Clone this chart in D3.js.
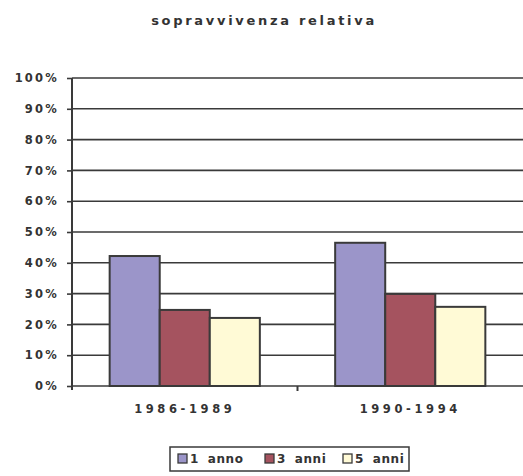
<!DOCTYPE html>
<html>
<head>
<meta charset="utf-8">
<script src="https://cdn.jsdelivr.net/npm/d3@7"></script>
<style>
  body { margin: 0; background: #fff; }
  text { font-family: "DejaVu Sans", sans-serif; font-weight: bold; fill: #333; }
</style>
</head>
<body>
<div id="chart"></div>
<script>
// data
var periods = ["1986-1989", "1990-1994"];
var seriesNames = ["1 anno", "3 anni", "5 anni"];
var anno1 = [42.2, 46.5];
var anni3 = [24.7, 29.9];
var anni5 = [22.1, 25.7];
var yTicks = [0, 10, 20, 30, 40, 50, 60, 70, 80, 90, 100];
var colors = ["#9b95c9", "#a5535f", "#fffad6"];

var margin = {top: 78, right: 0, bottom: 90, left: 72};
var width = 523 - margin.left - margin.right,
    height = 476 - margin.top - margin.bottom;

var svg = d3.select("#chart").append("svg")
    .attr("width", 523)
    .attr("height", 476);

svg.append("text")
    .attr("x", 264)
    .attr("y", 25)
    .attr("text-anchor", "middle")
    .style("font-size", "13px")
    .style("letter-spacing", "2.7px")
    .text("sopravvivenza relativa");

var g = svg.append("g")
    .attr("transform", "translate(" + margin.left + "," + margin.top + ")");

var y = d3.scaleLinear().domain([0, 100]).range([height, 0]);

var x0 = d3.scaleBand().domain(periods).range([0, width]).padding(0);

var x1 = d3.scaleBand().domain(seriesNames)
    .range([x0.bandwidth() * 0.167, x0.bandwidth() * 0.833]).padding(0);

var data = periods.map(function(p, i) {
    return {period: p, values: [anno1[i], anni3[i], anni5[i]]};
});

// gridlines
g.selectAll(".grid")
    .data(yTicks.slice(1))
    .enter()
    .append("line")
    .attr("x1", 0)
    .attr("x2", width)
    .attr("y1", function(d) { return y(d); })
    .attr("y2", function(d) { return y(d); })
    .attr("stroke", "#3a3a3a")
    .attr("stroke-width", 1.6);

// bars
var groups = g.selectAll(".grp")
    .data(data)
    .enter()
    .append("g")
    .attr("transform", function(d) { return "translate(" + x0(d.period) + ",0)"; });

groups.selectAll("rect")
    .data(function(d) { return d.values.map(function(v, i) { return {name: seriesNames[i], value: v, i: i}; }); })
    .enter()
    .append("rect")
    .attr("x", function(d) { return x1(d.name); })
    .attr("width", x1.bandwidth())
    .attr("y", function(d) { return y(d.value); })
    .attr("height", function(d) { return height - y(d.value); })
    .attr("fill", function(d) { return colors[d.i]; })
    .attr("stroke", "#3a3a3a")
    .attr("stroke-width", 2);

// y axis
var yAxis = d3.axisLeft(y)
    .tickValues(yTicks)
    .tickSize(5)
    .tickPadding(8)
    .tickFormat(function(d) { return d + "%"; });

var ya = g.append("g").call(yAxis);
ya.select(".domain").remove();
ya.selectAll(".tick line").attr("stroke", "#3a3a3a").attr("stroke-width", 1.6);
ya.selectAll("text")
    .style("font-size", "11.5px")
    .style("letter-spacing", "2.2px")
    .style("font-family", "DejaVu Sans, sans-serif")
    .attr("fill", "#333");

g.append("line")
    .attr("x1", 0).attr("x2", 0)
    .attr("y1", 0).attr("y2", height + 4)
    .attr("stroke", "#3a3a3a")
    .attr("stroke-width", 2);

// x axis
var xAxis = d3.axisBottom(x0).tickSize(0).tickPadding(19);
var xa = g.append("g")
    .attr("transform", "translate(0," + height + ")")
    .call(xAxis);
xa.select(".domain").remove();
xa.selectAll("text")
    .style("font-size", "11.5px")
    .style("letter-spacing", "3.6px")
    .style("font-family", "DejaVu Sans, sans-serif")
    .attr("fill", "#333");

g.append("line")
    .attr("x1", 0).attr("x2", width)
    .attr("y1", height).attr("y2", height)
    .attr("stroke", "#3a3a3a")
    .attr("stroke-width", 1.6);

g.selectAll(".xtick")
    .data(periods.slice(1))
    .enter()
    .append("line")
    .attr("x1", function(d) { return x0(d); })
    .attr("x2", function(d) { return x0(d); })
    .attr("y1", height)
    .attr("y2", height + 5)
    .attr("stroke", "#3a3a3a")
    .attr("stroke-width", 2);

// legend
var legend = svg.append("g").attr("transform", "translate(170,447)");
legend.append("rect")
    .attr("width", 239)
    .attr("height", 24)
    .attr("fill", "#fff")
    .attr("stroke", "#3a3a3a")
    .attr("stroke-width", 1.5);

var legendX = [8, 95, 173];
var item = legend.selectAll(".item")
    .data(seriesNames)
    .enter()
    .append("g")
    .attr("transform", function(d, i) { return "translate(" + legendX[i] + ",7)"; });

item.append("rect")
    .attr("width", 9)
    .attr("height", 9)
    .attr("fill", function(d, i) { return colors[i]; })
    .attr("stroke", "#3a3a3a")
    .attr("stroke-width", 1.3);

item.append("text")
    .attr("x", 12)
    .attr("y", 9)
    .style("font-size", "12px")
    .style("letter-spacing", "0.6px")
    .style("word-spacing", "4px")
    .text(function(d) { return d; });
</script>
</body>
</html>
